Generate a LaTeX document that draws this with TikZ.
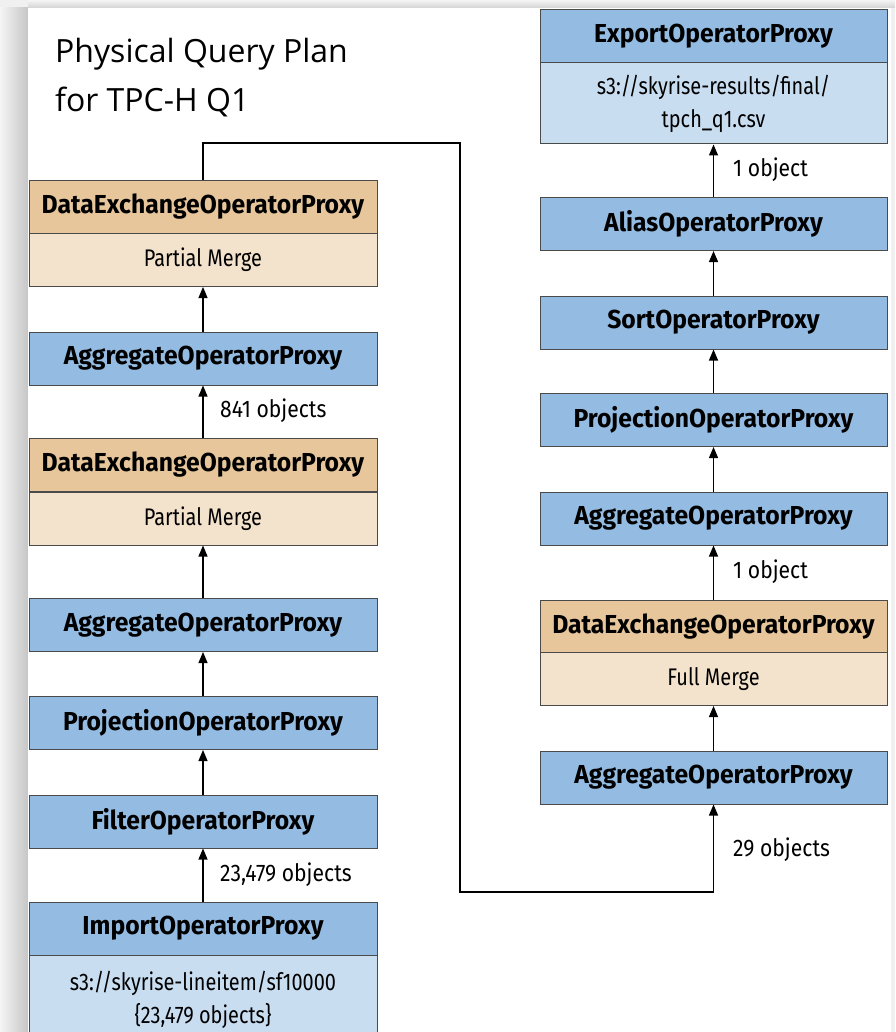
\documentclass[tikz,border=0pt]{standalone}
\usepackage{fontspec}
\usetikzlibrary{arrows.meta}
\newfontfamily\ttlfont{Open Sans}
\newfontfamily\hdrfont[FakeStretch=0.95]{Fira Sans}
\newfontfamily\bdyfont[FakeStretch=0.83]{Fira Sans}
\newfontfamily\lblfont[FakeStretch=0.88]{Fira Sans}
\definecolor{hblue}{HTML}{94BCE3}
\definecolor{bblue}{HTML}{C9DDF1}
\definecolor{htan}{HTML}{E6C69A}
\definecolor{btan}{HTML}{F3E2CC}
\definecolor{bord}{HTML}{4A4A4A}
\tikzset{
  box/.style={draw=bord, line width=1pt, minimum width=348pt, minimum height=53pt, inner sep=0pt, align=center},
  hdrb/.style={box, fill=hblue, font=\hdrfont\bfseries\fontsize{26}{30}\selectfont},
  hdrt/.style={box, fill=htan, font=\hdrfont\bfseries\fontsize{26}{30}\selectfont},
  bodyb/.style={box, fill=bblue, font=\bdyfont\fontsize{24}{33}\selectfont},
  bodyt/.style={box, fill=btan, font=\bdyfont\fontsize{24}{33}\selectfont},
  flow/.style={line width=1.2pt, -{Triangle[length=11pt,width=9pt]}},
  lbl/.style={anchor=west, inner sep=0pt, font=\lblfont\fontsize{24}{28}\selectfont},
}
\begin{document}
\begin{tikzpicture}[x=1pt,y=-1pt]
\useasboundingbox (0,0) rectangle (895,1032);
\clip (0,0) rectangle (895,1032);
% page background and shadow
\fill[gray!12] (0,0) rectangle (895,1032);
\shade[left color=gray!8, right color=gray!45] (0,8) rectangle (28,1032);
\shade[top color=gray!8, bottom color=gray!35] (28,0) rectangle (895,8);
\fill[white] (28,8) rectangle (891,1032);
% title
\node[anchor=base west, inner sep=0pt, font=\ttlfont\fontsize{32}{40}\selectfont] (title1) at (55,63) {Physical Query Plan};
\node[anchor=base west, inner sep=0pt, font=\ttlfont\fontsize{32}{40}\selectfont] (title2) at (55,112) {for TPC-H Q1};
% left column
\node[hdrt] (dxA) at (203,207) {DataExchangeOperatorProxy};
\node[bodyt] (dxAb) at (203,260) {Partial Merge};
\node[hdrb] (aggA) at (203,358.5) {AggregateOperatorProxy};
\node[hdrt] (dxB) at (203,465) {DataExchangeOperatorProxy};
\node[bodyt] (dxBb) at (203,518.5) {Partial Merge};
\node[hdrb] (aggB) at (203,625) {AggregateOperatorProxy};
\node[hdrb] (projA) at (203,723) {ProjectionOperatorProxy};
\node[hdrb] (filt) at (203,821.5) {FilterOperatorProxy};
\node[hdrb] (imp) at (203,928.5) {ImportOperatorProxy};
\node[bodyb, minimum height=90pt] (impb) at (203,1000) {s3://skyrise-lineitem/sf10000\\\{23,479 objects\}};
% right column
\node[hdrb, minimum width=347pt] (exp) at (713.5,36.5) {ExportOperatorProxy};
\node[bodyb, minimum width=347pt, minimum height=81pt] (expb) at (713.5,103.5) {s3://skyrise-results/final/\\tpch\_q1.csv};
\node[hdrb, minimum width=347pt] (alias) at (713.5,224) {AliasOperatorProxy};
\node[hdrb, minimum width=347pt] (sort) at (713.5,322.5) {SortOperatorProxy};
\node[hdrb, minimum width=347pt] (projB) at (713.5,420) {ProjectionOperatorProxy};
\node[hdrb, minimum width=347pt] (aggC) at (713.5,518.5) {AggregateOperatorProxy};
\node[hdrt, minimum width=347pt] (dxC) at (713.5,626.5) {DataExchangeOperatorProxy};
\node[bodyt, minimum width=347pt] (dxCb) at (713.5,679) {Full Merge};
\node[hdrb, minimum width=347pt] (aggD) at (713.5,777.5) {AggregateOperatorProxy};
% connectors left
\draw[flow] (aggA.north) -- (dxAb.south);
\draw[flow] (dxB.north) -- (aggA.south);
\draw[flow] (aggB.north) -- (dxBb.south);
\draw[flow] (projA.north) -- (aggB.south);
\draw[flow] (filt.north) -- (projA.south);
\draw[flow] (imp.north) -- (filt.south);
% connectors right
\draw[flow] (alias.north) -- (expb.south);
\draw[flow] (sort.north) -- (alias.south);
\draw[flow] (projB.north) -- (sort.south);
\draw[flow] (aggC.north) -- (projB.south);
\draw[flow] (dxC.north) -- (aggC.south);
\draw[flow] (aggD.north) -- (dxCb.south);
% long connector
\coordinate (c1) at (203,143);
\coordinate (c2) at (460,143);
\coordinate (c3) at (460,892);
\coordinate (c4) at (713.5,892);
\draw[flow] (dxA.north) -- (c1) -- (c2) -- (c3) -- (c4) -- (aggD.south);
% labels
\node[lbl] (l1) at (220,411) {841 objects};
\node[lbl] (l2) at (220,875) {23,479 objects};
\node[lbl] (l3) at (733,170) {1 object};
\node[lbl] (l4) at (733,572) {1 object};
\node[lbl] (l5) at (733,850) {29 objects};
\end{tikzpicture}
\end{document}
